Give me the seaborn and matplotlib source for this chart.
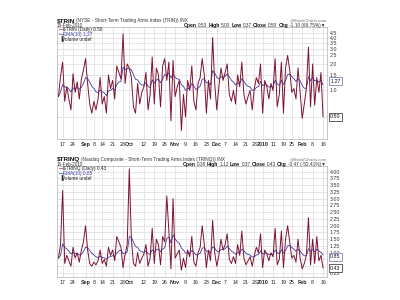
import numpy as np
import pandas as pd
import matplotlib
matplotlib.use("Agg")
import matplotlib.pyplot as plt
import matplotlib.ticker as mticker
import matplotlib.transforms as mtrans
import seaborn as sns

# ---------------- data ----------------
holidays = ["2009-09-07", "2009-11-26", "2009-12-25", "2010-01-01", "2010-01-18", "2010-02-15"]
dates = pd.bdate_range("2009-08-13", "2010-02-16", freq="C", holidays=holidays)

trin = [0.85, 1.45, 2.10, 0.75, 1.10, 0.80, 0.60, 1.55, 0.95, 1.25,
        0.80, 1.35, 1.70, 2.30, 1.20, 0.70, 0.55, 0.75, 0.60, 0.80,
        1.40, 0.70, 0.85, 0.55, 1.50, 1.05, 1.30, 0.80, 1.90, 1.60,
        1.35, 4.40, 1.20, 2.00, 1.80, 1.40, 0.65, 0.55, 1.20, 0.70,
        0.95, 1.10, 1.60, 0.60, 0.90, 2.40, 0.70, 1.80, 1.50, 0.65,
        1.90, 2.30, 1.30, 2.10, 0.45, 2.20, 0.85, 1.10, 1.30, 0.35,
        0.90, 0.50, 1.30, 1.00, 1.90, 0.75, 0.60, 1.20, 1.40, 2.30,
        1.50, 0.55, 1.30, 0.80, 4.00, 1.20, 0.60, 1.10, 1.80, 1.30,
        1.60, 2.00, 0.90, 0.75, 1.00, 0.70, 1.50, 1.10, 2.10, 0.90,
        0.70, 0.85, 1.00, 0.60, 1.05, 1.40, 1.20, 2.00, 0.55, 1.30,
        1.10, 0.80, 1.20, 1.00, 2.30, 0.65, 0.90, 2.10, 0.55, 1.80,
        2.50, 1.70, 0.95, 1.05, 0.80, 1.80, 0.95, 0.48, 0.70, 1.05,
        3.10, 0.65, 2.00, 0.68, 1.40, 0.95, 1.60, 0.50]

trinq = [0.80, 1.30, 3.30, 0.60, 0.90, 0.70, 0.50, 1.20, 0.80, 1.00,
         0.65, 1.10, 1.40, 2.00, 1.10, 0.60, 0.50, 0.65, 0.55, 0.70,
         1.10, 0.60, 0.75, 0.50, 1.20, 0.90, 1.10, 0.70, 1.60, 1.40,
         1.20, 0.45, 0.95, 1.30, 4.10, 1.50, 0.60, 0.50, 1.00, 0.60,
         0.80, 0.95, 1.30, 0.50, 0.80, 1.90, 0.60, 1.50, 1.30, 0.55,
         1.60, 1.40, 3.10, 1.80, 0.40, 3.00, 0.80, 0.95, 1.10, 0.35,
         0.80, 0.45, 1.10, 0.85, 1.60, 0.65, 0.50, 1.00, 1.20, 2.00,
         1.30, 0.45, 1.10, 0.70, 2.20, 1.00, 0.50, 0.90, 1.50, 1.10,
         1.30, 1.70, 0.75, 0.60, 0.85, 0.60, 1.30, 0.90, 1.80, 0.80,
         0.55, 0.70, 0.85, 0.50, 0.90, 1.20, 1.00, 1.70, 0.45, 1.10,
         0.95, 0.70, 1.00, 0.85, 1.90, 0.55, 0.75, 1.80, 0.45, 1.50,
         2.00, 1.40, 0.80, 0.90, 0.65, 1.50, 0.80, 0.40, 0.60, 0.90,
         2.30, 0.55, 1.50, 0.60, 1.60, 0.70, 0.90, 0.43]

tick_dates = ["2009-08-17", "2009-08-24", "2009-09-01", "2009-09-08", "2009-09-14",
              "2009-09-21", "2009-09-28", "2009-10-01", "2009-10-12", "2009-10-19",
              "2009-10-26", "2009-11-02", "2009-11-09", "2009-11-16", "2009-11-23",
              "2009-12-01", "2009-12-07", "2009-12-14", "2009-12-21", "2009-12-28",
              "2010-01-04", "2010-01-11", "2010-01-19", "2010-01-25", "2010-02-01",
              "2010-02-08", "2010-02-16"]
tick_labels = ["17", "24", "Sep", "8", "14", "21", "28", "Oct", "12", "19", "26", "Nov",
               "9", "16", "23", "Dec", "7", "14", "21", "28", "2010", "11", "19", "25",
               "Feb", "8", "16"]
bold_labels = ["Sep", "Oct", "Nov", "Dec", "2010", "Feb"]

top_yticks = [0.5, 1.0, 1.5, 2.0, 2.5, 3.0, 3.5, 4.0, 4.5]
top_hidden = [0.5]
bot_yticks = [0.25, 0.50, 0.75, 1.00, 1.25, 1.50, 1.75, 2.00, 2.25, 2.50, 2.75,
              3.00, 3.25, 3.50, 3.75, 4.00]
bot_hidden = [0.50, 0.75]

# ---------------- style ----------------
sns.set_style("white")
plt.rcParams["font.family"] = ["Liberation Sans", "DejaVu Sans"]

W, H = 400, 300
fig = plt.figure(figsize=(4, 3), dpi=100)
fig.patch.set_facecolor("white")

PRICE = "#7e1232"
EMA_C = "#3a3aa0"
GRID = "#dcdcdc"

idx = np.arange(len(dates))
df = pd.DataFrame({"i": idx, "trin": trin, "trinq": trinq})
df["ema_trin"] = df["trin"].ewm(span=10, adjust=False).mean()
df["ema_trinq"] = df["trinq"].ewm(span=10, adjust=False).mean()

date_pos = {d.strftime("%Y-%m-%d"): k for k, d in enumerate(dates)}
tick_pos = [date_pos[d] for d in tick_dates]


def ax_rect(x0, y0, x1, y1):
    return [x0 / W, 1 - y1 / H, (x1 - x0) / W, (y1 - y0) / H]


def style_axes(ax, yticks, fmt, hidden):
    ax.set_xlim(-0.7, 128.9)
    ax.set_xticks(tick_pos)
    ax.set_xticklabels(tick_labels)
    for lab in ax.get_xticklabels():
        lab.set_fontsize(3.8)
        lab.set_color("#222222")
        if lab.get_text() in bold_labels:
            lab.set_fontweight("bold")
    ax.set_yticks(yticks)
    ax.yaxis.set_major_formatter(mticker.FuncFormatter(
        lambda v, p: "" if any(abs(v - h) < 1e-6 for h in hidden) else fmt.format(v)))
    ax.yaxis.set_minor_locator(mticker.NullLocator())
    ax.yaxis.set_minor_formatter(mticker.NullFormatter())
    ax.yaxis.tick_right()
    ax.tick_params(axis="y", labelsize=3.8, labelcolor="#333333", length=0, pad=2)
    ax.tick_params(axis="x", length=0, pad=2.5)
    ax.grid(True, color=GRID, linewidth=0.5)
    ax.set_axisbelow(True)
    for s in ax.spines.values():
        s.set_color("#b0b0b0")
        s.set_linewidth(0.5)
    ax.set_xlabel("")
    ax.set_ylabel("")


def rich(x_px, y_px, parts, ha="left"):
    r = fig.canvas.get_renderer()
    objs = []
    for s, kw in parts:
        t = fig.text(0, 0, s, va="baseline", **kw)
        w = t.get_window_extent(r).width
        objs.append((t, w))
    gap = 1.2
    total = sum(w for _, w in objs) + gap * (len(objs) - 1)
    x = x_px if ha == "left" else x_px - total
    for t, w in objs:
        t.set_position((x / W, 1 - y_px / H))
        x += w + gap


def boxed(ax, y, text, ec):
    tr = mtrans.blended_transform_factory(ax.transAxes, ax.transData)
    ax.text(1.012, y, text, transform=tr, fontsize=3.8, va="center", ha="left",
            color="#111111",
            bbox=dict(boxstyle="square,pad=0.25", fc="white", ec=ec, lw=0.5))


def panel(ax, ycol, ecol, yticks, fmt, log, hidden):
    if log:
        ax.set_yscale("log")
    sns.lineplot(data=df, x="i", y=ecol, ax=ax, color=EMA_C, linewidth=0.6)
    sns.lineplot(data=df, x="i", y=ycol, ax=ax, color=PRICE, linewidth=0.7)
    style_axes(ax, yticks, fmt, hidden)


# ---------------- top panel ----------------
ax1 = fig.add_axes(ax_rect(57, 27, 327, 139))
panel(ax1, "trin", "ema_trin", top_yticks, "{:.1f}", True, top_hidden)
ax1.set_ylim(0.28, 5.27)
boxed(ax1, 1.27, "1.27", "#6a6ac0")
boxed(ax1, 0.50, "0.50", "#222222")

# ---------------- bottom panel ----------------
ax2 = fig.add_axes(ax_rect(57, 166, 327, 277))
panel(ax2, "trinq", "ema_trinq", bot_yticks, "{:.2f}", False, bot_hidden)
ax2.set_ylim(0.10, 4.21)
boxed(ax2, 0.85, "0.85", "#6a6ac0")
boxed(ax2, 0.43, "0.43", "#222222")

fig.canvas.draw()

# ---------------- header texts ----------------
def header(y_title, y_date, sym, desc, ohlc, leg_price, leg_ema, y_leg):
    rich(57, y_title, [(sym, dict(fontsize=4.6, fontweight="bold", color="#111111")),
                       (desc, dict(fontsize=3.4, color="#333333"))])
    fig.text(57 / W, 1 - y_date / H, "16-Feb-2010", fontsize=3.3, color="#333333", va="baseline")
    fig.text(327 / W, 1 - (y_title - 1) / H, "@StockCharts.com", fontsize=3.2,
             color="#777777", ha="right", va="baseline")
    parts = []
    for k, (lab, val) in enumerate(ohlc):
        parts.append((lab, dict(fontsize=3.6, fontweight="bold", color="#111111")))
        parts.append((val, dict(fontsize=3.4, color="#333333")))
    rich(326, y_date, parts, ha="right")
    # legend rows
    fig.text(59 / W, 1 - y_leg / H, "\u2014", fontsize=3.6, color=PRICE, va="baseline", fontweight="bold")
    fig.text(63 / W, 1 - y_leg / H, leg_price, fontsize=3.4, color="#222222", va="baseline")
    fig.text(59 / W, 1 - (y_leg + 5) / H, "\u2014", fontsize=3.6, color=EMA_C, va="baseline", fontweight="bold")
    fig.text(63 / W, 1 - (y_leg + 5) / H, leg_ema, fontsize=3.4, color=EMA_C, va="baseline")
    fig.text(59 / W, 1 - (y_leg + 10) / H, "\u2590", fontsize=3.4, color="#333333", va="baseline")
    fig.text(62 / W, 1 - (y_leg + 10) / H, "Volume undef", fontsize=3.4, color="#222222", va="baseline")


header(22, 27, "$TRIN", "(NYSE - Short-Term Trading Arms Index (TRIN)) INX",
       [("Open", "0.53"), ("High", "5.00"), ("Low", "0.37"), ("Close", "0.50"),
        ("Chg", "-1.10 (68.75%)\u25bc")],
       "$TRIN (Daily) 0.50", "EMA(10) 1.27", 31)

header(161, 166, "$TRINQ", "(Nasdaq Composite - Short-Term Trading Arms Index (TRINQ)) INX",
       [("Open", "0.38"), ("High", "1.12"), ("Low", "0.37"), ("Close", "0.43"),
        ("Chg", "-0.47 (-52.41%)\u25bc")],
       "$TRINQ (Daily) 0.43", "EMA(10) 0.85", 170)

fig.savefig("out.png", dpi=100, facecolor="white")
